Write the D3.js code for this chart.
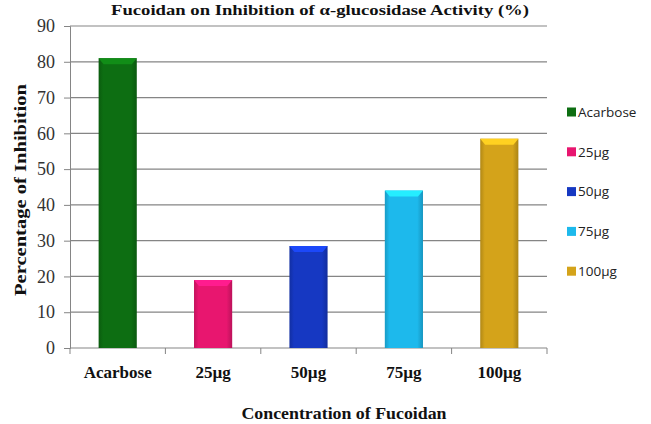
<!DOCTYPE html>
<html>
<head>
<meta charset="utf-8">
<script src="https://cdn.jsdelivr.net/npm/d3@7"></script>
<style>
  body { margin: 0; background: #fff; }
</style>
</head>
<body>
<div id="chart"></div>
<script>
// data
var categories = ["Acarbose", "25µg", "50µg", "75µg", "100µg"];
var inhibition = [81, 19, 28.5, 44, 58.5];
var barColors = ["#0d6e12", "#e8166f", "#1638c2", "#1db9ec", "#d4a31a"];
var yTicks = [0, 10, 20, 30, 40, 50, 60, 70, 80, 90];

var data = categories.map(function(c, i) {
  return {name: c, value: inhibition[i], color: barColors[i]};
});

var serif = "'Liberation Serif', 'Times New Roman', serif";

// dimensions
var W = 651, H = 424;
var margin = {top: 26, right: 104, bottom: 76, left: 70},
    width = W - margin.left - margin.right,
    height = H - margin.top - margin.bottom;

var svg = d3.select("#chart")
  .append("svg")
    .attr("width", W)
    .attr("height", H);

// gradients for the bevelled bars
var defs = svg.append("defs");
data.forEach(function(d, i) {
  var c = d3.color(d.color);
  var g = defs.append("linearGradient")
    .attr("id", "grad" + i)
    .attr("x1", "0").attr("x2", "1").attr("y1", "0").attr("y2", "0");
  g.append("stop").attr("offset", "0%").attr("stop-color", c.darker(0.5));
  g.append("stop").attr("offset", "12%").attr("stop-color", c);
  g.append("stop").attr("offset", "85%").attr("stop-color", c);
  g.append("stop").attr("offset", "100%").attr("stop-color", c.darker(0.6));
});

var g = svg.append("g")
    .attr("transform", "translate(" + margin.left + "," + margin.top + ")");

// title (cut off at the top in the original, kept visible here)
svg.append("text")
  .attr("x", 320)
  .attr("y", 15)
  .attr("text-anchor", "middle")
  .attr("textLength", 418)
  .attr("lengthAdjust", "spacingAndGlyphs")
  .style("font-family", serif)
  .style("font-weight", "bold")
  .style("font-size", "15px")
  .style("fill", "#111")
  .text("Fucoidan  on Inhibition  of α-glucosidase Activity (%)");

// scales
var x = d3.scaleBand()
  .domain(categories)
  .range([0, width])
  .paddingInner(0.6)
  .paddingOuter(0.3);

var y = d3.scaleLinear()
  .domain([0, 90])
  .range([height, 0]);

// gridlines
g.append("g")
  .selectAll("line")
  .data(yTicks.filter(function(t) { return t > 0; }))
  .enter()
  .append("line")
    .attr("x1", 0)
    .attr("x2", width)
    .attr("y1", function(d) { return y(d); })
    .attr("y2", function(d) { return y(d); })
    .attr("stroke", "#858585")
    .attr("stroke-width", 1.2);

// Y axis
var yAxis = g.append("g")
  .call(d3.axisLeft(y).tickValues(yTicks).tickSize(6).tickPadding(9).tickFormat(d3.format("d")));
yAxis.select(".domain").attr("stroke", "#858585");
yAxis.selectAll(".tick line").attr("stroke", "#858585");
yAxis.selectAll(".tick text")
  .style("font-family", serif)
  .style("font-size", "18px")
  .attr("fill", "#333");

// X axis, ticks between the bands
var xAxis = g.append("g")
  .attr("transform", "translate(0," + height + ")");
xAxis.append("line")
  .attr("x1", 0).attr("x2", width)
  .attr("stroke", "#858585");
var bounds = categories.map(function(c) { return x(c) - x.step() * x.paddingInner() / 2; });
bounds[0] = 0;
bounds.push(width);
xAxis.selectAll(".xtick")
  .data(bounds)
  .enter()
  .append("line")
    .attr("class", "xtick")
    .attr("x1", function(d) { return d; })
    .attr("x2", function(d) { return d; })
    .attr("y1", 0)
    .attr("y2", 6)
    .attr("stroke", "#858585");
xAxis.selectAll(".xlabel")
  .data(categories)
  .enter()
  .append("text")
    .attr("class", "xlabel")
    .attr("x", function(d) { return x(d) + x.bandwidth() / 2; })
    .attr("y", 30)
    .attr("text-anchor", "middle")
    .style("font-family", serif)
    .style("font-weight", "bold")
    .style("font-size", "17px")
    .style("fill", "#111")
    .text(function(d) { return d; });

// Bars
g.selectAll("rect.bar")
  .data(data)
  .enter()
  .append("rect")
    .attr("class", "bar")
    .attr("x", function(d) { return x(d.name); })
    .attr("y", function(d) { return y(d.value); })
    .attr("width", x.bandwidth())
    .attr("height", function(d) { return height - y(d.value); })
    .attr("fill", function(d, i) { return "url(#grad" + i + ")"; });

// bevel on bar tops
g.selectAll("path.cap")
  .data(data)
  .enter()
  .append("path")
    .attr("class", "cap")
    .attr("d", function(d) {
      var x0 = x(d.name), x1 = x0 + x.bandwidth(), y0 = y(d.value);
      return "M" + x0 + "," + y0 + "L" + x1 + "," + y0 + "L" + (x1 - 5) + "," + (y0 + 6) +
             "L" + (x0 + 5) + "," + (y0 + 6) + "Z";
    })
    .attr("fill", function(d) { return d3.color(d.color).brighter(0.7); });

// axis titles
svg.append("text")
  .attr("transform", "translate(20,190) rotate(-90)")
  .attr("text-anchor", "middle")
  .attr("dy", "0.35em")
  .attr("textLength", 212)
  .attr("lengthAdjust", "spacingAndGlyphs")
  .style("font-family", serif)
  .style("font-weight", "bold")
  .style("font-size", "17px")
  .style("fill", "#111")
  .text("Percentage of Inhibition");

svg.append("text")
  .attr("x", 344)
  .attr("y", 419)
  .attr("text-anchor", "middle")
  .attr("textLength", 205)
  .attr("lengthAdjust", "spacingAndGlyphs")
  .style("font-family", serif)
  .style("font-weight", "bold")
  .style("font-size", "17px")
  .style("fill", "#111")
  .text("Concentration  of Fucoidan");

// Legend
var legend = svg.append("g")
  .attr("transform", "translate(567,112)");
var items = legend.selectAll("g")
  .data(data)
  .enter()
  .append("g")
    .attr("transform", function(d, i) { return "translate(0," + (i * 39.8) + ")"; });
items.append("rect")
  .attr("x", 0).attr("y", -4.5)
  .attr("width", 9).attr("height", 9)
  .attr("fill", function(d) { return d.color; });
items.append("text")
  .attr("x", 11)
  .attr("dy", "0.35em")
  .style("font-family", "'Open Sans', 'Noto Sans', sans-serif")
  .style("font-size", "13.5px")
  .style("fill", "#222")
  .text(function(d) { return d.name; });
</script>
</body>
</html>
